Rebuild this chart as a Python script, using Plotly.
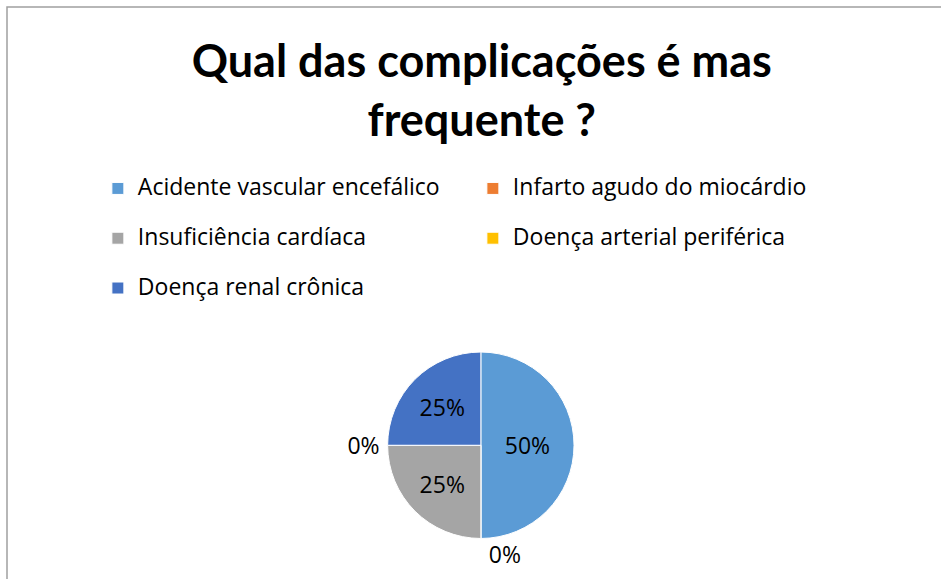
import plotly.graph_objects as go

labels = [
    "Acidente vascular encefálico",
    "Infarto agudo do miocárdio",
    "Insuficiência cardíaca",
    "Doença arterial periférica",
    "Doença renal crônica",
]
values = [2, 0, 1, 0, 1]
colors = ["#5B9BD5", "#ED7D31", "#A5A5A5", "#FFC000", "#4472C4"]
text_pos = ["inside", "outside", "inside", "outside", "inside"]

# legend rows in the original are widely spaced: pad each entry with an empty
# line (row height follows legend.font.size) and draw the name a bit larger
legend_labels = [
    "<span style='font-size:23px'>" + name + "</span><br> " for name in labels
]

fig = go.Figure()

fig.add_trace(go.Pie(
    labels=legend_labels,
    values=values,
    customdata=labels,
    sort=False,
    direction="clockwise",
    rotation=0,
    marker=dict(colors=colors, line=dict(color="white", width=1)),
    texttemplate="%{percent:.0%}",
    textposition=text_pos,
    insidetextorientation="horizontal",
    textfont=dict(family="Open Sans", size=23, color="#000000"),
    hovertemplate="%{customdata}: %{percent:.0%}<extra></extra>",
    domain=dict(x=[0.3, 0.722], y=[0.07, 0.392]),
    showlegend=True,
))

fig.update_layout(
    width=941,
    height=579,
    paper_bgcolor="white",
    plot_bgcolor="white",
    margin=dict(l=0, r=0, t=0, b=0),
    title=dict(
        text="<b>Qual das complicações é mas<br>frequente ?</b>",
        x=0.512, xanchor="center",
        y=0.867, yanchor="middle",
        font=dict(family="Lato", size=45, color="#000000"),
    ),
    legend=dict(
        orientation="h",
        x=0.104, xanchor="left",
        y=0.706, yanchor="top",
        entrywidth=330,
        entrywidthmode="pixels",
        valign="top",
        font=dict(family="Open Sans", size=18, color="#000000"),
        traceorder="normal",
    ),
    shapes=[dict(
        type="rect", xref="paper", yref="paper",
        x0=7 / 941, x1=1.01, y0=-0.02, y1=1 - 7 / 579,
        line=dict(color="#A0A0A0", width=1.5),
    )],
)

fig.write_html(
    "out.html",
    config={"displayModeBar": False},
    post_script="document.body.style.margin='0';",
)
